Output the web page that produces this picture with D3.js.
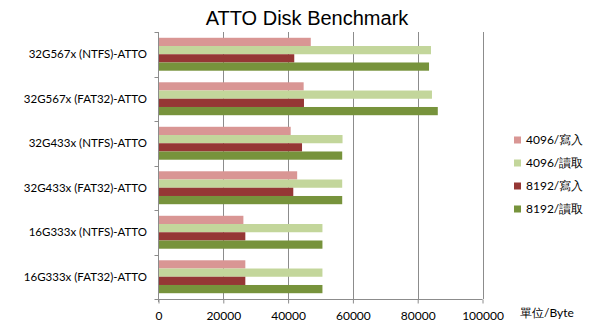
<!DOCTYPE html>
<html><head><meta charset="utf-8">
<script src="https://cdn.jsdelivr.net/npm/d3@7"></script>
<style>body{margin:0;background:#fff}svg{display:block}</style>
</head><body>
<svg id="c" width="615" height="328"></svg>
<script>
const categories = ["32G567x (NTFS)-ATTO","32G567x (FAT32)-ATTO","32G433x (NTFS)-ATTO","32G433x (FAT32)-ATTO","16G333x (NTFS)-ATTO","16G333x (FAT32)-ATTO"];
const seriesNames = ["4096/寫入","4096/讀取","8192/寫入","8192/讀取"];
const write4096 = [47000, 44800, 40800, 42800, 26200, 26800];
const read4096  = [84100, 84400, 56800, 56700, 50600, 50600];
const write8192 = [41900, 44900, 44300, 41600, 26800, 26800];
const read8192  = [83500, 86200, 56700, 56700, 50600, 50600];
const xTicks = [0, 20000, 40000, 60000, 80000, 100000];
const colors = ["#d99694","#c3d69b","#953735","#77933c"];
const seriesValues = [write4096, read4096, write8192, read8192];

(function () {
const svg = d3.select("#c");
const pL = 158.5, pR = 482.5, pT = 32, pB = 299;
const font = "Lato, 'Open Sans', sans-serif";

const x = d3.scaleLinear().domain([0, 100000]).range([pL, pR]);
const y = d3.scaleBand().domain(categories).range([pT, pB]).paddingInner(0.26).paddingOuter(0.13);
const ys = d3.scaleBand().domain(seriesNames).range([0, y.bandwidth()]);

svg.append("text").attr("x", 307).attr("y", 25).attr("text-anchor", "middle")
  .attr("font-family", "'Liberation Sans', Arial, sans-serif").attr("font-size", 20).attr("fill", "#000")
  .text("ATTO Disk Benchmark");

svg.append("g").selectAll("line").data(xTicks.slice(1)).join("line")
  .attr("x1", d => Math.round(x(d)) + 0.5).attr("x2", d => Math.round(x(d)) + 0.5)
  .attr("y1", pT).attr("y2", pB).attr("stroke", "#8c8c8c").attr("stroke-width", 1);

const rows = [];
categories.forEach((c, i) => seriesNames.forEach((s, j) => rows.push({c, s, j, v: seriesValues[j][i]})));
svg.append("g").selectAll("rect").data(rows).join("rect")
  .attr("x", x(0)).attr("y", d => y(d.c) + ys(d.s))
  .attr("width", d => x(d.v) - x(0)).attr("height", ys.bandwidth())
  .attr("fill", d => colors[d.j]);

const xAxis = d3.axisBottom(x).tickValues(xTicks).tickSize(4).tickPadding(8).tickFormat(d3.format("d"));
const gx = svg.append("g").attr("transform", `translate(0,${pB + 0.5})`).call(xAxis);
gx.select(".domain").attr("stroke", "#8c8c8c").attr("d", `M${pL},0H${pR}`);
gx.selectAll(".tick line").attr("stroke", "#8c8c8c");
gx.selectAll(".tick text").attr("font-family", font).attr("font-size", 12).attr("fill", "#000");

const bounds = d3.range(categories.length + 1).map(i => pT + i * (pB - pT) / categories.length);
const gy = svg.append("g");
gy.append("line").attr("x1", pL).attr("x2", pL).attr("y1", pT).attr("y2", pB + 3).attr("stroke", "#8c8c8c");
gy.selectAll("line.t").data(bounds).join("line").attr("class", "t")
  .attr("x1", pL - 4).attr("x2", pL).attr("y1", d => Math.round(d) + 0.5).attr("y2", d => Math.round(d) + 0.5)
  .attr("stroke", "#8c8c8c");
gy.selectAll("text").data(categories).join("text")
  .attr("x", 147).attr("y", d => y(d) + y.bandwidth() / 2).attr("dy", "0.35em")
  .attr("text-anchor", "end").attr("font-family", font).attr("font-size", 11.5).attr("fill", "#000")
  .text(d => d);

const lg = svg.append("g");
seriesNames.forEach((s, j) => {
  const yy = 140 + j * 23;
  lg.append("rect").attr("x", 514).attr("y", yy - 3.5).attr("width", 7).attr("height", 7).attr("fill", colors[j]);
  lg.append("text").attr("x", 526).attr("y", yy).attr("dy", "0.35em")
    .attr("font-family", font).attr("font-size", 12).attr("fill", "#000").text(s);
});

svg.append("text").attr("x", 520).attr("y", 313).attr("dy", "0.35em")
  .attr("font-family", font).attr("font-size", 12).attr("fill", "#000").text("單位/Byte");
})();
</script>
</body></html>
